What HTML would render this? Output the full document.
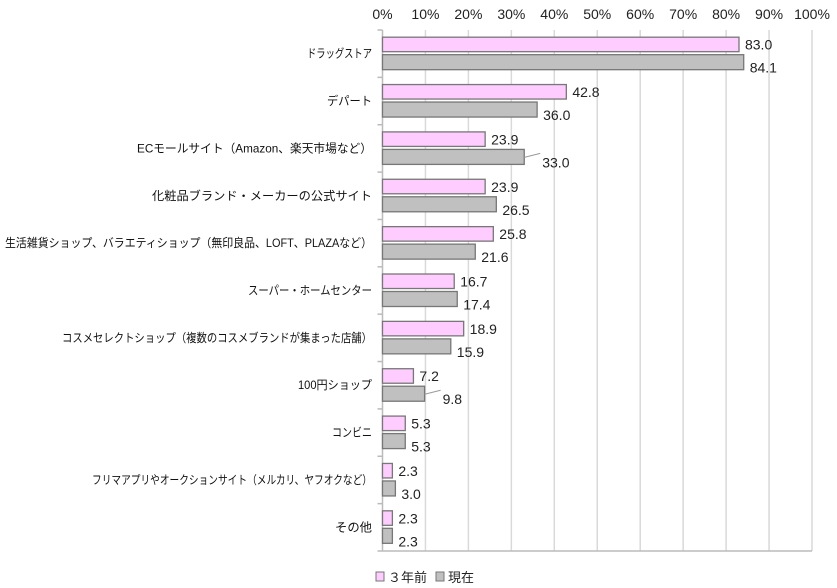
<!DOCTYPE html>
<html><head><meta charset="utf-8"><style>
html,body{margin:0;padding:0;background:#fff;}
svg{display:block;font-family:"Liberation Sans","Noto Sans CJK JP",sans-serif;}
</style></head><body>
<svg width="837" height="588" xmlns="http://www.w3.org/2000/svg">
<g id="grid" stroke="#d9d9d9" stroke-width="1.5"></g>
<g id="ticks" font-size="14" fill="#222" text-anchor="middle"></g>
<g id="bars"></g>
<g id="cats" font-size="12" fill="#111"></g>
<g id="vals" font-size="14" fill="#222"></g>
<g font-size="13" fill="#222">
<rect x="376" y="572" width="8" height="9" fill="#ffccff" stroke="#777"/>
<text x="388" y="582">３年前</text>
<rect x="436" y="572" width="8" height="9" fill="#c0c0c0" stroke="#777"/>
<text x="448" y="582">現在</text>
</g>
</svg>
<script>
(function(){
const x0=382.5,s=4.295,yTop=30,yBot=551,n=11,h=(yBot-yTop)/n;
const cats=["ドラッグストア","デパート","ECモールサイト（Amazon、楽天市場など）","化粧品ブランド・メーカーの公式サイト","生活雑貨ショップ、バラエティショップ（無印良品、LOFT、PLAZAなど）","スーパー・ホームセンター","コスメセレクトショップ（複数のコスメブランドが集まった店舗）","100円ショップ","コンビニ","フリマアプリやオークションサイト（メルカリ、ヤフオクなど）","その他"];
const starts=[307,327,137,152,5,248,62,298,332,92,335];
const p=[83.0,42.8,23.9,23.9,25.8,16.7,18.9,7.2,5.3,2.3,2.3];
const g=[84.1,36.0,33.0,26.5,21.6,17.4,15.9,9.8,5.3,3.0,2.3];
const NS="http://www.w3.org/2000/svg";
function el(par,t,a,txt){const e=document.createElementNS(NS,t);for(const k in a)e.setAttribute(k,a[k]);if(txt!=null)e.textContent=txt;document.getElementById(par).appendChild(e);return e;}
for(let i=0;i<=10;i++){const x=x0+i*10*s;if(i>0)el("grid","line",{x1:x,y1:yTop,x2:x,y2:yBot});el("ticks","text",{x:x,y:19},i*10+"%");}
el("grid","line",{x1:x0,y1:yTop,x2:x0,y2:yBot,stroke:"#bbb"});
el("grid","line",{x1:x0,y1:yBot,x2:812,y2:yBot,stroke:"#bbb"});
for(let i=0;i<=n;i++){const y=yTop+i*h;el("grid","line",{x1:x0-5,y1:y,x2:x0,y2:y,stroke:"#bbb"});}
for(let i=0;i<n;i++){
 const c=yTop+h*(i+0.5);
 el("bars","rect",{x:x0,y:c-16.5,width:p[i]*s,height:14.5,fill:"#ffccff",stroke:"#777","stroke-width":1.3});
 el("bars","rect",{x:x0,y:c+1,width:g[i]*s,height:15,fill:"#c0c0c0",stroke:"#777","stroke-width":1.3});
 el("cats","text",{x:starts[i],y:c+4,textLength:372-starts[i],lengthAdjust:"spacingAndGlyphs"},cats[i]);
 el("vals","text",{x:x0+p[i]*s+6,y:c-4},p[i].toFixed(1));
 let gx=x0+g[i]*s+6;
 if(i==2||i==7){gx+=12;el("bars","line",{x1:x0+g[i]*s,y1:c+9,x2:gx-2,y2:c+5,stroke:"#999"});}
 el("vals","text",{x:gx,y:c+19},g[i].toFixed(1));
}
})();
</script>
</body></html>
